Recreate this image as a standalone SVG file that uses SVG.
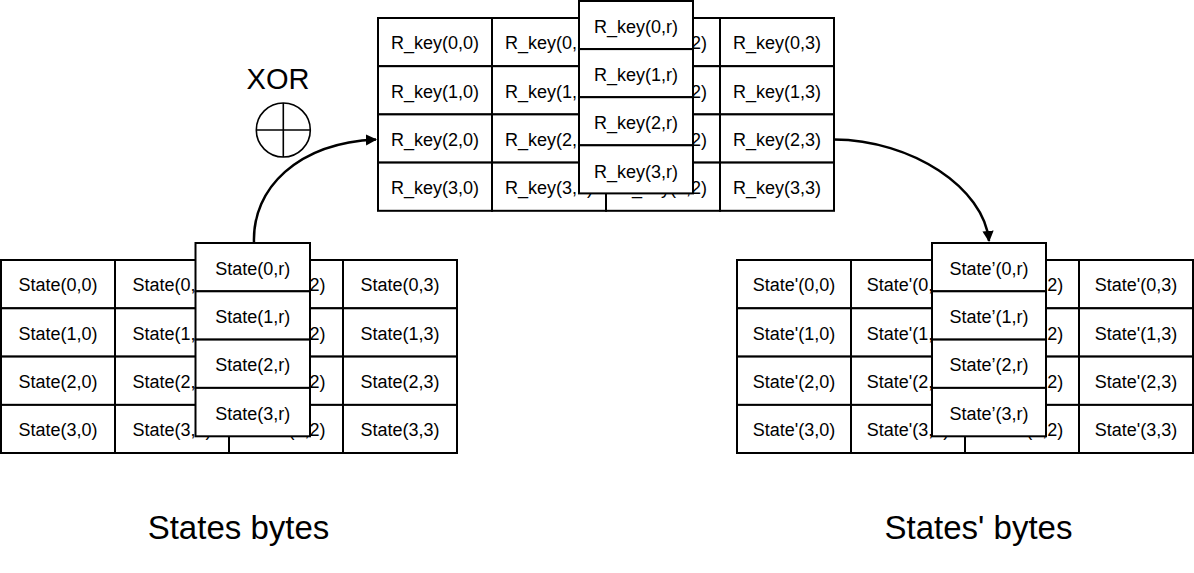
<svg xmlns="http://www.w3.org/2000/svg" width="1194" height="573" viewBox="0 0 1194 573">
<style>
.c{fill:#fff;stroke:#000;stroke-width:2}
.t{font-family:"Liberation Sans",Arial,sans-serif;font-size:18px;text-anchor:middle;fill:#000}
.big{font-family:"Liberation Sans",Arial,sans-serif;font-size:33px;text-anchor:middle;fill:#000}
.conn{fill:none;stroke:#000;stroke-width:2.5}
</style>
<defs>
<marker id="ah" viewBox="0 0 10 10" refX="9" refY="5" markerWidth="4.5" markerHeight="4.5" orient="auto" markerUnits="strokeWidth">
<path d="M0,0 L10,5 L0,10 Z" fill="#000"/>
</marker>
</defs>
<rect width="1194" height="573" fill="#fff"/>

<!-- R_key grid -->
<g id="rkey-grid">
<g id="rk00"><rect class="c" x="378" y="18" width="114" height="48.2"/><text class="t" x="435" y="49">R_key(0,0)</text></g>
<g id="rk01"><rect class="c" x="492" y="18" width="114" height="48.2"/><text class="t" x="549" y="49">R_key(0,1)</text></g>
<g id="rk02"><rect class="c" x="606" y="18" width="114" height="48.2"/><text class="t" x="663" y="49">R_key(0,2)</text></g>
<g id="rk03"><rect class="c" x="720" y="18" width="114" height="48.2"/><text class="t" x="777" y="49">R_key(0,3)</text></g>
<g id="rk10"><rect class="c" x="378" y="66.2" width="114" height="48.2"/><text class="t" x="435" y="97.5">R_key(1,0)</text></g>
<g id="rk11"><rect class="c" x="492" y="66.2" width="114" height="48.2"/><text class="t" x="549" y="97.5">R_key(1,1)</text></g>
<g id="rk12"><rect class="c" x="606" y="66.2" width="114" height="48.2"/><text class="t" x="663" y="97.5">R_key(1,2)</text></g>
<g id="rk13"><rect class="c" x="720" y="66.2" width="114" height="48.2"/><text class="t" x="777" y="97.5">R_key(1,3)</text></g>
<g id="rk20"><rect class="c" x="378" y="114.4" width="114" height="48.2"/><text class="t" x="435" y="145.5">R_key(2,0)</text></g>
<g id="rk21"><rect class="c" x="492" y="114.4" width="114" height="48.2"/><text class="t" x="549" y="145.5">R_key(2,1)</text></g>
<g id="rk22"><rect class="c" x="606" y="114.4" width="114" height="48.2"/><text class="t" x="663" y="145.5">R_key(2,2)</text></g>
<g id="rk23"><rect class="c" x="720" y="114.4" width="114" height="48.2"/><text class="t" x="777" y="145.5">R_key(2,3)</text></g>
<g id="rk30"><rect class="c" x="378" y="162.6" width="114" height="48.2"/><text class="t" x="435" y="194">R_key(3,0)</text></g>
<g id="rk31"><rect class="c" x="492" y="162.6" width="114" height="48.2"/><text class="t" x="549" y="194">R_key(3,1)</text></g>
<g id="rk32"><rect class="c" x="606" y="162.6" width="114" height="48.2"/><text class="t" x="663" y="194">R_key(3,2)</text></g>
<g id="rk33"><rect class="c" x="720" y="162.6" width="114" height="48.2"/><text class="t" x="777" y="194">R_key(3,3)</text></g>
</g>
<g id="rkey-col">
<g id="rk0r"><rect class="c" x="579" y="1" width="114" height="48.1"/><text class="t" x="636" y="33">R_key(0,r)</text></g>
<g id="rk1r"><rect class="c" x="579" y="49.1" width="114" height="48.1"/><text class="t" x="636" y="81">R_key(1,r)</text></g>
<g id="rk2r"><rect class="c" x="579" y="97.2" width="114" height="48.1"/><text class="t" x="636" y="129">R_key(2,r)</text></g>
<g id="rk3r"><rect class="c" x="579" y="145.3" width="114" height="48.1"/><text class="t" x="636" y="177.5">R_key(3,r)</text></g>
</g>

<!-- State grid -->
<g id="state-grid">
<g id="s00"><rect class="c" x="1" y="260" width="114" height="48.3"/><text class="t" x="58" y="291">State(0,0)</text></g>
<g id="s01"><rect class="c" x="115" y="260" width="114" height="48.3"/><text class="t" x="172" y="291">State(0,1)</text></g>
<g id="s02"><rect class="c" x="229" y="260" width="114" height="48.3"/><text class="t" x="286" y="291">State(0,2)</text></g>
<g id="s03"><rect class="c" x="343" y="260" width="114" height="48.3"/><text class="t" x="400" y="291">State(0,3)</text></g>
<g id="s10"><rect class="c" x="1" y="308.3" width="114" height="48.3"/><text class="t" x="58" y="339.5">State(1,0)</text></g>
<g id="s11"><rect class="c" x="115" y="308.3" width="114" height="48.3"/><text class="t" x="172" y="339.5">State(1,1)</text></g>
<g id="s12"><rect class="c" x="229" y="308.3" width="114" height="48.3"/><text class="t" x="286" y="339.5">State(1,2)</text></g>
<g id="s13"><rect class="c" x="343" y="308.3" width="114" height="48.3"/><text class="t" x="400" y="339.5">State(1,3)</text></g>
<g id="s20"><rect class="c" x="1" y="356.6" width="114" height="48.3"/><text class="t" x="58" y="387.5">State(2,0)</text></g>
<g id="s21"><rect class="c" x="115" y="356.6" width="114" height="48.3"/><text class="t" x="172" y="387.5">State(2,1)</text></g>
<g id="s22"><rect class="c" x="229" y="356.6" width="114" height="48.3"/><text class="t" x="286" y="387.5">State(2,2)</text></g>
<g id="s23"><rect class="c" x="343" y="356.6" width="114" height="48.3"/><text class="t" x="400" y="387.5">State(2,3)</text></g>
<g id="s30"><rect class="c" x="1" y="404.9" width="114" height="48.1"/><text class="t" x="58" y="436">State(3,0)</text></g>
<g id="s31"><rect class="c" x="115" y="404.9" width="114" height="48.1"/><text class="t" x="172" y="436">State(3,1)</text></g>
<g id="s32"><rect class="c" x="229" y="404.9" width="114" height="48.1"/><text class="t" x="286" y="436">State(3,2)</text></g>
<g id="s33"><rect class="c" x="343" y="404.9" width="114" height="48.1"/><text class="t" x="400" y="436">State(3,3)</text></g>
</g>
<g id="state-col">
<g id="s0r"><rect class="c" x="195.5" y="243" width="114.5" height="48.3"/><text class="t" x="252.7" y="274.5">State(0,r)</text></g>
<g id="s1r"><rect class="c" x="195.5" y="291.3" width="114.5" height="48.3"/><text class="t" x="252.7" y="323">State(1,r)</text></g>
<g id="s2r"><rect class="c" x="195.5" y="339.6" width="114.5" height="48.3"/><text class="t" x="252.7" y="371">State(2,r)</text></g>
<g id="s3r"><rect class="c" x="195.5" y="387.9" width="114.5" height="48.4"/><text class="t" x="252.7" y="419.5">State(3,r)</text></g>
</g>

<!-- State' grid -->
<g id="stateP-grid">
<g id="p00"><rect class="c" x="737" y="260" width="114" height="48.3"/><text class="t" x="794" y="291">State'(0,0)</text></g>
<g id="p01"><rect class="c" x="851" y="260" width="114" height="48.3"/><text class="t" x="908" y="291">State'(0,1)</text></g>
<g id="p02"><rect class="c" x="965" y="260" width="114" height="48.3"/><text class="t" x="1022" y="291">State'(0,2)</text></g>
<g id="p03"><rect class="c" x="1079" y="260" width="114" height="48.3"/><text class="t" x="1136" y="291">State'(0,3)</text></g>
<g id="p10"><rect class="c" x="737" y="308.3" width="114" height="48.3"/><text class="t" x="794" y="339.5">State'(1,0)</text></g>
<g id="p11"><rect class="c" x="851" y="308.3" width="114" height="48.3"/><text class="t" x="908" y="339.5">State'(1,1)</text></g>
<g id="p12"><rect class="c" x="965" y="308.3" width="114" height="48.3"/><text class="t" x="1022" y="339.5">State'(1,2)</text></g>
<g id="p13"><rect class="c" x="1079" y="308.3" width="114" height="48.3"/><text class="t" x="1136" y="339.5">State'(1,3)</text></g>
<g id="p20"><rect class="c" x="737" y="356.6" width="114" height="48.3"/><text class="t" x="794" y="387.5">State'(2,0)</text></g>
<g id="p21"><rect class="c" x="851" y="356.6" width="114" height="48.3"/><text class="t" x="908" y="387.5">State'(2,1)</text></g>
<g id="p22"><rect class="c" x="965" y="356.6" width="114" height="48.3"/><text class="t" x="1022" y="387.5">State'(2,2)</text></g>
<g id="p23"><rect class="c" x="1079" y="356.6" width="114" height="48.3"/><text class="t" x="1136" y="387.5">State'(2,3)</text></g>
<g id="p30"><rect class="c" x="737" y="404.9" width="114" height="48.1"/><text class="t" x="794" y="436">State'(3,0)</text></g>
<g id="p31"><rect class="c" x="851" y="404.9" width="114" height="48.1"/><text class="t" x="908" y="436">State'(3,1)</text></g>
<g id="p32"><rect class="c" x="965" y="404.9" width="114" height="48.1"/><text class="t" x="1022" y="436">State'(3,2)</text></g>
<g id="p33"><rect class="c" x="1079" y="404.9" width="114" height="48.1"/><text class="t" x="1136" y="436">State'(3,3)</text></g>
</g>
<g id="stateP-col">
<g id="p0r"><rect class="c" x="932" y="243" width="114" height="48.3"/><text class="t" x="989" y="274.5">State’(0,r)</text></g>
<g id="p1r"><rect class="c" x="932" y="291.3" width="114" height="48.3"/><text class="t" x="989" y="323">State’(1,r)</text></g>
<g id="p2r"><rect class="c" x="932" y="339.6" width="114" height="48.3"/><text class="t" x="989" y="371">State’(2,r)</text></g>
<g id="p3r"><rect class="c" x="932" y="387.9" width="114" height="48.4"/><text class="t" x="989" y="419.5">State’(3,r)</text></g>
</g>

<!-- XOR -->
<g id="xor">
<text x="278" y="88.5" font-family="'Liberation Sans',Arial,sans-serif" font-size="29" text-anchor="middle">XOR</text>
<circle cx="283.3" cy="130" r="27" fill="none" stroke="#000" stroke-width="1.6"/>
<line x1="256.3" y1="130" x2="310.3" y2="130" stroke="#000" stroke-width="1.6"/>
<line x1="283.3" y1="103" x2="283.3" y2="157" stroke="#000" stroke-width="1.6"/>
</g>

<!-- connectors -->
<g id="connectors">
<path class="conn" d="M254,243 C252,188 298,143 376,139.5" marker-end="url(#ah)"/>
<path class="conn" d="M834,139.5 C912,140 984,188 989,241" marker-end="url(#ah)"/>
</g>

<!-- captions -->
<text class="big" x="238.5" y="539">States bytes</text>
<text class="big" x="978.5" y="539">States' bytes</text>
</svg>
